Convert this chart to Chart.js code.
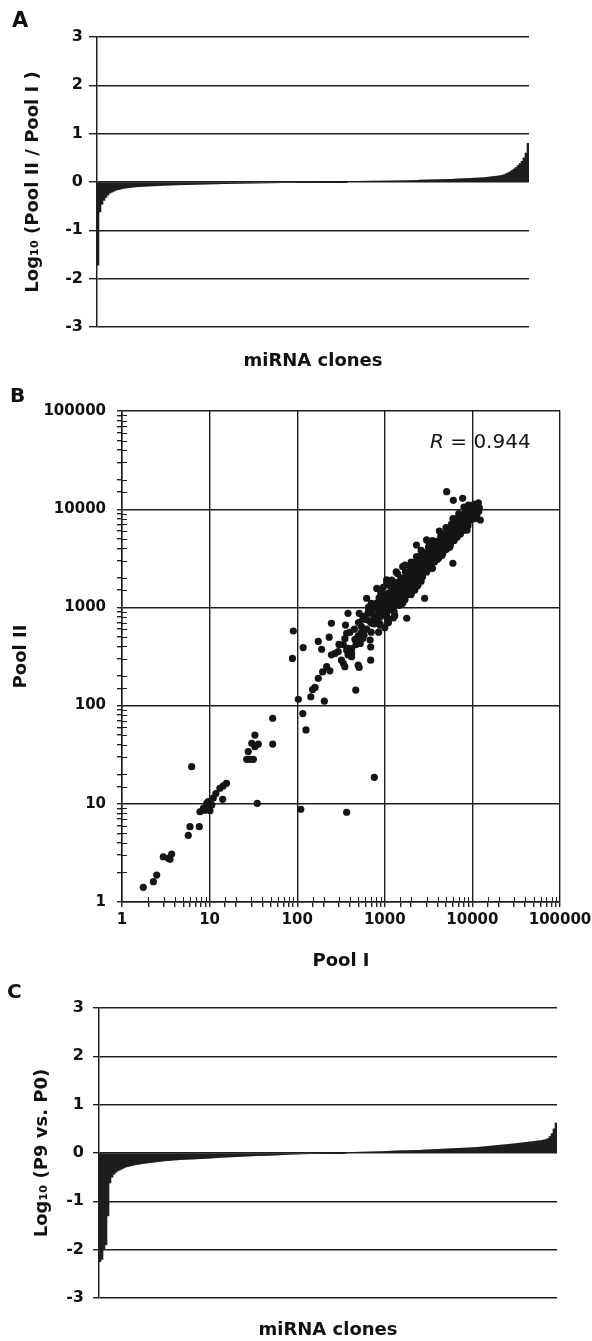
<!DOCTYPE html>
<html>
<head>
<meta charset="utf-8">
<script src="https://cdn.jsdelivr.net/npm/chart.js@4.4.1/dist/chart.umd.min.js"></script>
<style>
  html, body { margin: 0; padding: 0; background: #fff; }
  body { position: relative; width: 592px; height: 1341px; overflow: hidden; font-family: 'DejaVu Sans', sans-serif; color: #111; }
  canvas { position: absolute; left: 0; }
  .tag { position: absolute; font-weight: bold; line-height: 1; z-index: 2; }
  #rlabel { position: absolute; left: 430px; top: 431px; font-size: 20px; line-height: 1; z-index: 2; white-space: nowrap; }
</style>
</head>
<body>
<div class="tag" style="left:12px;top:10px;font-size:21px">A</div>
<canvas id="chartA" width="592" height="380" style="top:0"></canvas>
<div class="tag" style="left:10px;top:385px;font-size:20px">B</div>
<canvas id="chartB" width="592" height="620" style="top:360px"></canvas>
<div id="rlabel"><i>R</i> = 0.944</div>
<div class="tag" style="left:7px;top:981px;font-size:20px">C</div>
<canvas id="chartC" width="592" height="371" style="top:970px"></canvas>
<script>
// A: log10(Pool II / Pool I), clones sorted by ratio
const ratioA = [
  -1.72, -0.62, -0.46, -0.38, -0.32, -0.27, -0.23, -0.21, -0.19, -0.17,
  -0.16, -0.15, -0.14, -0.13, -0.125, -0.12, -0.115, -0.11, -0.105, -0.10,
  -0.098, -0.095, -0.093, -0.09, -0.088, -0.086, -0.084, -0.082, -0.08, -0.078,
  -0.076, -0.074, -0.072, -0.07, -0.068, -0.066, -0.065, -0.064, -0.062, -0.06,
  -0.059, -0.058, -0.057, -0.056, -0.055, -0.054, -0.053,
  -0.052, -0.05, -0.049, -0.048, -0.047, -0.046, -0.045, -0.044, -0.043, -0.042,
  -0.041, -0.04, -0.039, -0.038, -0.037, -0.036, -0.035, -0.034, -0.033,
  -0.032, -0.031, -0.03, -0.03, -0.029, -0.028, -0.028, -0.027, -0.026, -0.026,
  -0.025, -0.024, -0.024, -0.023, -0.022, -0.022, -0.021, -0.02, -0.02, -0.019,
  -0.018, -0.018, -0.017, -0.016, -0.016, -0.015, -0.015,
  -0.014, -0.014, -0.013, -0.013, -0.012, -0.012, -0.011, -0.011, -0.01, -0.01,
  -0.01, -0.009, -0.009, -0.009, -0.008, -0.008, -0.008, -0.007, -0.007, -0.007,
  -0.006, -0.006, -0.006, -0.005, -0.005, -0.005, -0.004, -0.004, -0.003, -0.003,
  -0.002, -0.001,
  0.012, 0.013, 0.013, 0.014, 0.014, 0.015, 0.015, 0.016, 0.016, 0.017,
  0.017, 0.018, 0.018, 0.019, 0.019, 0.02, 0.02, 0.021, 0.021, 0.022,
  0.022, 0.023, 0.023, 0.024, 0.024, 0.025, 0.025,
  0.026, 0.027, 0.028, 0.029, 0.03, 0.031, 0.032, 0.033, 0.034,
  0.04, 0.041, 0.042, 0.043, 0.044, 0.045, 0.046, 0.047, 0.048, 0.049,
  0.05, 0.051, 0.052, 0.053, 0.054, 0.055, 0.056,
  0.06, 0.062, 0.064, 0.066, 0.068, 0.07, 0.072, 0.074, 0.076, 0.078,
  0.08, 0.082, 0.084, 0.086, 0.088,
  0.09, 0.095, 0.1, 0.105, 0.11, 0.115, 0.12, 0.125, 0.13, 0.14,
  0.15, 0.17, 0.19, 0.21, 0.24, 0.27, 0.3, 0.34, 0.38, 0.43, 0.5, 0.6, 0.8
];

// C: log10(P9 vs. P0), clones sorted by ratio
const ratioC = [
  -2.25, -2.2, -2.0, -1.9, -1.3, -0.62, -0.5, -0.44, -0.4, -0.37, -0.35, -0.33, -0.31,
  -0.29, -0.28, -0.27, -0.26, -0.25,
  -0.24, -0.235, -0.23, -0.22, -0.215,
  -0.21, -0.205, -0.2, -0.195, -0.19, -0.185, -0.18,
  -0.175, -0.17, -0.165, -0.16, -0.158, -0.155, -0.15, -0.147,
  -0.144, -0.141, -0.138, -0.136, -0.134, -0.132, -0.13, -0.128, -0.126, -0.124,
  -0.122, -0.12, -0.118, -0.116, -0.114, -0.112,
  -0.11, -0.107, -0.104, -0.101, -0.098, -0.095, -0.092, -0.09, -0.088, -0.086,
  -0.084, -0.082, -0.08, -0.078,
  -0.076, -0.074, -0.072, -0.07, -0.068, -0.066, -0.064, -0.062, -0.06, -0.058,
  -0.056, -0.055, -0.054, -0.053, -0.052, -0.051, -0.05,
  -0.048, -0.046, -0.044, -0.042, -0.04, -0.038, -0.036, -0.034, -0.032, -0.03,
  -0.028, -0.026, -0.025, -0.024, -0.022, -0.02,
  -0.019, -0.018, -0.017, -0.016, -0.015, -0.014, -0.013, -0.012, -0.011, -0.01,
  -0.009, -0.008, -0.007, -0.007, -0.006, -0.006, -0.005, -0.005, -0.004, -0.003,
  -0.002, -0.001, 0.001,
  0.012, 0.013, 0.014, 0.015, 0.016, 0.017, 0.018, 0.019, 0.02, 0.021,
  0.022, 0.023, 0.024, 0.025, 0.026, 0.027, 0.028, 0.029, 0.03,
  0.034, 0.036, 0.038, 0.04, 0.042, 0.044, 0.045, 0.046, 0.047, 0.048,
  0.049, 0.05, 0.051, 0.052, 0.053, 0.054, 0.055, 0.056,
  0.06, 0.062, 0.064, 0.066, 0.068, 0.07, 0.072, 0.074, 0.076, 0.078,
  0.08, 0.082, 0.084, 0.086, 0.088, 0.09, 0.092, 0.094, 0.096, 0.098,
  0.1, 0.102, 0.104, 0.106, 0.108, 0.11, 0.112, 0.114,
  0.118, 0.122, 0.126, 0.13, 0.134, 0.138, 0.142, 0.146, 0.15, 0.154,
  0.158, 0.162, 0.166, 0.17, 0.174,
  0.178, 0.182, 0.186, 0.19, 0.195, 0.2, 0.205, 0.21, 0.215, 0.22,
  0.225, 0.23, 0.235, 0.24, 0.245, 0.25, 0.255, 0.26, 0.27, 0.28,
  0.3, 0.34, 0.4, 0.5, 0.62
];

// B: clone counts, Pool I (x) against Pool II (y)
const poolI = [
  1.75, 2.28, 2.49, 2.96, 3.38, 3.69, 3.53, 5.71, 5.97, 7.63,
  6.24, 7.77, 8.5, 9.27, 9.66, 10.1, 8.8, 10.6, 11.0, 11.8,
  13.1, 14.3, 15.6, 14.1, 9.9, 26.5, 28.9, 27.6, 30.3, 32.9,
  32.9, 36, 31.6, 52.5, 52.5, 35, 90.3, 88.2, 103, 110,
  367, 759, 126, 116, 204, 143, 150, 160, 174, 195,
  217, 236, 246, 232, 246, 174, 190, 117, 270, 294,
  336, 367, 400, 336, 350, 497, 510, 466, 418, 418,
  380, 524, 690, 690, 680, 560, 497, 456, 367, 356,
  380, 510, 567, 540, 707, 777, 883, 883, 1780, 1300,
  1050, 5090, 6060, 7740, 11700, 12300, 8660, 5990, 2850, 2300,
  3000, 810, 1050, 620,
  300, 320, 350, 380, 400, 420, 450, 470, 500, 520,
  540, 560, 580, 600, 620, 650, 680, 700, 720, 750,
  760, 780, 800, 820, 850, 870, 880, 900, 920, 950,
  980, 1000, 1020, 1050, 1080, 1100, 1120, 1150, 1180, 1200,
  1230, 1250, 1280, 1300, 1330, 1350, 1380, 1400, 1430, 1450,
  1480, 1500, 1530, 1560, 1600, 1620, 1650, 1680, 1700, 1750,
  1780, 1800, 1850, 1880, 1900, 1950, 2000, 2050, 2080, 2100,
  2150, 2200, 2250, 2300, 2350, 2400, 2450, 2500, 2550, 2600,
  2650, 2700, 2750, 2800, 2850, 2900, 2950, 3000, 3050, 3100,
  3150, 3200, 3300, 3350, 3400, 3450, 3500, 3600, 3650, 3700,
  3800, 3850, 3900, 4000, 4050, 4100, 4200, 4300, 4350, 4400,
  4500, 4600, 4650, 4700, 4800, 4900, 5000, 5100, 5200, 5300,
  5400, 5500, 5600, 5700, 5800, 5900, 6000, 6100, 6200, 6300,
  6400, 6500, 6600, 6700, 6800, 6900, 7000, 7100, 7200, 7400,
  7500, 7600, 7800, 8000, 8100, 8200, 8400, 8600, 8700, 8800,
  9000, 9200, 9300, 9500, 9700, 9900, 10000, 10200, 10500, 10800,
  11000, 11500, 11800, 1600, 2200, 3000, 1200, 900, 700, 2600,
  4000, 5500, 7000, 8000, 6000, 3500, 2000, 1400, 1100, 1700,
  2400, 3300, 4500, 5000, 9000, 10500,
  1150, 1250, 1320, 1450, 1520, 1650, 1720, 1820, 1950, 2100,
  2250, 2350, 2500, 2700, 2800, 3000, 3150, 3350, 3500, 3700,
  3900, 4150, 4350, 4600, 4750, 5050, 5250, 5600, 5750, 6200,
  6300, 6700, 6800, 7300, 7400, 7900, 8300, 8900, 9400, 9800,
  10400, 11200, 12000, 960, 1050, 860, 650, 620, 1350, 1700,
  2300, 3200, 4200, 850, 1000, 1250, 1600, 2000, 2600, 3500
];
const poolII = [
  1.41, 1.61, 1.88, 2.89, 2.79, 3.08, 2.72, 4.78, 5.85, 5.85,
  23.9, 8.3, 9.0, 10.1, 10.5, 8.5, 8.6, 9.7, 11.4, 12.7,
  14.4, 15.2, 16.2, 11.1, 9.3, 28.4, 28.4, 34, 41.3, 38.2,
  50.1, 40.6, 28.4, 74.3, 40.6, 10.1, 575, 302, 116, 8.8,
  8.2, 18.6, 56.5, 83, 111, 123, 146, 153, 190, 220,
  249, 226, 329, 497, 688, 450, 375, 390, 340, 354,
  416, 366, 329, 270, 249, 258, 245, 144, 340, 315,
  383, 430, 290, 395, 465, 482, 513, 472, 545, 660,
  870, 870, 580, 555, 688, 775, 660, 800, 775, 820,
  870, 15070, 12300, 12900, 11600, 7760, 6120, 2810, 1240, 4320,
  4860, 1560, 1910, 1240,
  420, 290, 480, 330, 560, 380, 600, 420, 700, 480,
  640, 760, 520, 820, 600, 900, 720, 560, 850, 980,
  680, 800, 1100, 760, 920, 1200, 680, 1000, 840, 1150,
  900, 1300, 1000, 800, 1150, 1400, 950, 1250, 1050, 1500,
  1150, 1350, 900, 1600, 1250, 1450, 1100, 1700, 1350, 1550,
  1200, 1800, 1450, 1650, 1300, 1950, 1550, 1750, 1400, 2100,
  1650, 1900, 1500, 2200, 1800, 2050, 1700, 2400, 1950, 2200,
  1800, 2600, 2100, 2350, 1950, 2800, 2250, 2550, 2100, 3000,
  2450, 2750, 2300, 3200, 2650, 2950, 2450, 3400, 2850, 3150,
  2650, 3700, 3050, 3400, 2850, 3900, 3250, 3600, 3050, 4200,
  3450, 3850, 3250, 4500, 3700, 4100, 3500, 4800, 3950, 4400,
  3750, 5100, 4250, 4700, 4000, 5500, 4550, 5000, 4300, 5900,
  4850, 5350, 4600, 6300, 5200, 5700, 4950, 6700, 5550, 6100,
  5300, 7100, 5900, 6500, 5700, 7500, 6300, 6900, 6050, 7900,
  6700, 7300, 6400, 8400, 7200, 7800, 6900, 8900, 7700, 8300,
  7400, 9400, 8200, 8800, 7900, 10000, 8700, 9400, 10500, 9000,
  10000, 10800, 9500, 2600, 1500, 2300, 1900, 1400, 1100, 3800,
  3100, 4100, 9000, 10500, 8000, 4800, 2900, 2200, 700, 1200,
  1700, 2500, 3400, 6500, 11000, 8000,
  1650, 1000, 1800, 1050, 2000, 1250, 2300, 1350, 2600, 1600,
  2900, 1650, 3300, 2050, 3600, 2650, 4100, 2600, 4200, 2900,
  4700, 3200, 5300, 3600, 5600, 3900, 6200, 4300, 7000, 4800,
  7600, 5200, 8200, 5600, 8700, 6100, 9300, 6800, 10200, 8400,
  11200, 8700, 10300, 1600, 1750, 1250, 1000, 750, 2300, 2700,
  3300, 4600, 6000, 560, 620, 780, 1100, 1350, 1850, 2500
];

const ratioTicks = [-3, -2, -1, 0, 1, 2, 3];
const decadeTicks = [1, 10, 100, 1000, 10000, 100000];

Chart.defaults.font.family = "'DejaVu Sans', sans-serif";
Chart.defaults.font.weight = 'bold';
Chart.defaults.color = '#111';
Chart.defaults.animation = false;

const ink = '#1e1e1e';
const isDecade = v => decadeTicks.includes(v);

// pin axis box sizes so the plot areas sit where the figure has them
function pinBox(size) {
  return s => {
    if (s.isHorizontal()) s.height = size; else s.width = size;
    s.paddingLeft = 0; s.paddingRight = 0; s.paddingTop = 0; s.paddingBottom = 0;
  };
}

function sortedBars(id, values, yTitle, o) {
  new Chart(document.getElementById(id), {
    type: 'bar',
    data: {
      labels: values.map((v, i) => i + 1),
      datasets: [{ data: values, backgroundColor: ink, borderWidth: 0, barPercentage: 1, categoryPercentage: 1 }]
    },
    options: {
      responsive: false,
      events: [],
      layout: { padding: o.pad },
      plugins: { legend: { display: false }, tooltip: { enabled: false } },
      scales: {
        x: {
          ticks: { display: false },
          grid: { display: false },
          border: { display: false },
          title: { display: true, text: 'miRNA clones', font: { size: 18 }, padding: { top: 0, bottom: o.xTitlePad } },
          afterFit: pinBox(o.xHeight)
        },
        y: {
          min: -3, max: 3,
          afterBuildTicks: s => { s.ticks = ratioTicks.map(v => ({ value: v })); },
          ticks: { font: { size: 16 }, padding: o.tickPad },
          grid: { color: ink, lineWidth: 1.4, tickLength: o.tickLen },
          border: { color: ink, width: 1.5 },
          title: { display: true, text: yTitle, font: { size: 18 }, padding: { top: o.yTitlePad, bottom: 0 } },
          afterFit: pinBox(o.yWidth)
        }
      }
    }
  });
}

sortedBars('chartA', ratioA, 'Log\u2081\u2080 (Pool II / Pool I )', {
  pad: { top: 37, right: 63, left: 0, bottom: 0 }, xHeight: 53, xTitlePad: 8,
  yWidth: 97, yTitlePad: 23, tickLen: 8, tickPad: 6
});

sortedBars('chartC', ratioC, 'Log\u2081\u2080 (P9 vs. P0)', {
  pad: { top: 38, right: 35, left: 0, bottom: 0 }, xHeight: 43, xTitlePad: 0,
  yWidth: 99, yTitlePad: 32, tickLen: 6, tickPad: 9
});

// minor log ticks cross into the plot area as well
const innerTicks = {
  id: 'innerTicks',
  beforeDatasetsDraw(chart) {
    const { ctx, chartArea, scales } = chart;
    ctx.save();
    ctx.strokeStyle = ink;
    ctx.lineWidth = 1;
    ctx.beginPath();
    scales.x.ticks.forEach(t => {
      if (isDecade(t.value)) return;
      const px = Math.round(scales.x.getPixelForValue(t.value)) + 0.5;
      ctx.moveTo(px, chartArea.bottom);
      ctx.lineTo(px, chartArea.bottom - 5);
    });
    scales.y.ticks.forEach(t => {
      if (isDecade(t.value)) return;
      const py = Math.round(scales.y.getPixelForValue(t.value)) + 0.5;
      ctx.moveTo(chartArea.left, py);
      ctx.lineTo(chartArea.left + 5, py);
    });
    ctx.stroke();
    ctx.restore();
  }
};

function logAxis(title, titlePad, box, tickPad) {
  return {
    type: 'logarithmic', min: 1, max: 100000,
    ticks: {
      autoSkip: false, maxRotation: 0, minRotation: 0,
      font: { size: 15 }, padding: tickPad,
      callback: v => isDecade(v) ? String(v) : ''
    },
    grid: {
      color: c => (c.tick && isDecade(c.tick.value)) ? ink : 'rgba(0,0,0,0)',
      tickColor: ink, tickLength: 5, lineWidth: 1.4
    },
    border: { color: ink, width: 1.5 },
    title: { display: true, text: title, font: { size: 18 }, padding: titlePad },
    afterFit: pinBox(box)
  };
}

new Chart(document.getElementById('chartB'), {
  type: 'scatter',
  data: {
    datasets: [{
      data: poolI.map((x, i) => ({ x: x, y: poolII[i] })),
      pointRadius: 3.6,
      pointBackgroundColor: '#151515',
      pointBorderWidth: 0
    }]
  },
  options: {
    responsive: false,
    events: [],
    layout: { padding: { top: 51, right: 32, left: 0, bottom: 0 } },
    plugins: { legend: { display: false }, tooltip: { enabled: false } },
    scales: {
      x: logAxis('Pool I', { top: 0, bottom: 8 }, 78, 4),
      y: logAxis('Pool II', { top: 11, bottom: 0 }, 122, 11)
    }
  },
  plugins: [innerTicks]
});
</script>
</body>
</html>
